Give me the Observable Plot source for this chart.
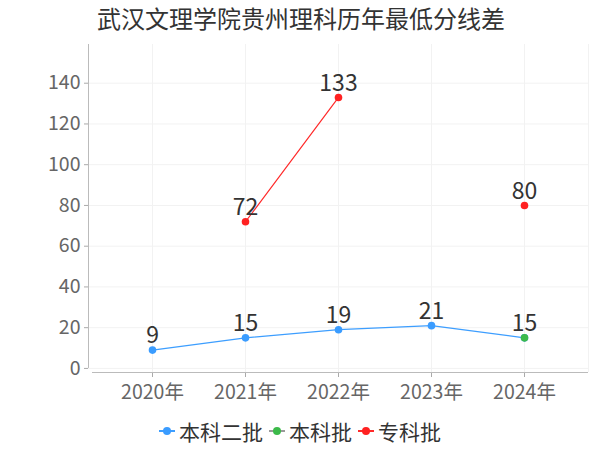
<!DOCTYPE html>
<html><head><meta charset="utf-8">
<script src="https://cdn.jsdelivr.net/npm/d3@7"></script>
<script src="https://cdn.jsdelivr.net/npm/@observablehq/plot@0.6"></script>
<style>
body{margin:0;background:#fff;font-family:"Noto Sans CJK SC",sans-serif;}
#wrap{position:relative;width:600px;height:450px;overflow:hidden;}
#title{position:absolute;left:97px;top:2px;font-size:24px;line-height:32px;color:#333;white-space:nowrap;}
#legend{position:absolute;left:0;width:600px;top:416px;height:30px;display:flex;justify-content:center;align-items:center;font-size:21px;color:#333;}
.item{display:flex;align-items:center;margin:0 3px;}
.sym{position:relative;width:16px;height:12px;margin-right:4px;}
.sym .ln{position:absolute;left:0;right:0;top:5px;height:2px;}
.sym .dt{position:absolute;left:4px;top:2px;width:8px;height:8px;border-radius:50%;}
#chart{position:absolute;left:0;top:0;}
</style></head>
<body><div id="wrap"><div id="chart"></div><div id="title">武汉文理学院贵州理科历年最低分线差</div><div id="legend"></div></div>
<script>
const years = ["2020年","2021年","2022年","2023年","2024年"];
const seriesNames = ["本科二批","本科批","专科批"];
const benke2 = [9,15,19,21,15];
const benke = [null,null,null,null,15];
const zhuanke = [null,72,133,null,80];
const yTicks = [0,20,40,60,80,100,120,140];
const colors = ["#3a9cff","#3cba4a","#ff2121"];
const lineColors = ["#3d9eff","#9a9a9a","#ff2a2a"];

const allSeries = [benke2, benke, zhuanke];
const rows = [];
allSeries.forEach((vals, si) => vals.forEach((v, i) => rows.push({series: seriesNames[si], year: years[i], value: v == null ? NaN : v})));
const defined = rows.filter(d => !isNaN(d.value));
const seen = new Set();
const labels = [];
for (let i = defined.length - 1; i >= 0; i--) {
  const k = defined[i].year + "|" + defined[i].value;
  if (!seen.has(k)) { seen.add(k); labels.push(defined[i]); }
}

const plot = Plot.plot({
  width: 600, height: 450,
  marginTop: 44, marginBottom: 78, marginLeft: 88, marginRight: 12,
  style: {fontFamily: '"Noto Sans CJK SC",sans-serif', background: "transparent"},
  x: {type: "point", domain: years, padding: 0.66},
  y: {domain: [-2, 159]},
  color: {domain: seriesNames, range: colors},
  marks: [
    Plot.gridY(yTicks, {stroke: "#f2f2f2", strokeOpacity: 1}),
    Plot.gridX(years, {stroke: "#f2f2f2", strokeOpacity: 1}),
    Plot.axisY(yTicks, {tickSize: 4, tickPadding: 4, fontSize: 19.5, color: "#666", stroke: "#aaa", label: null}),
    Plot.axisX(years, {tickSize: 5, tickPadding: 8, fontSize: 19.5, color: "#666", stroke: "#aaa", label: null}),
    Plot.line(rows.filter(d => d.series === seriesNames[0]), {x: "year", y: "value", stroke: lineColors[0], strokeWidth: 1.2}),
    Plot.line(rows.filter(d => d.series === seriesNames[2]), {x: "year", y: "value", stroke: lineColors[2], strokeWidth: 1.2}),
    Plot.dot(defined, {x: "year", y: "value", fill: "series", r: 3.8}),
    Plot.text(labels, {x: "year", y: "value", text: d => String(d.value), dy: -14, fontSize: 23, fill: "#333"})
  ]
});
document.getElementById("chart").appendChild(plot);

// axis lines
const svg = d3.select(plot);
const ys = plot.scale("y");
const y0 = ys.apply(0), yTop = ys.apply(159), yBot = ys.apply(-2);
svg.append("line").attr("x1", 88.5).attr("x2", 88.5).attr("y1", yTop).attr("y2", y0).attr("stroke", "#bbb");
svg.append("line").attr("x1", 92).attr("x2", 588).attr("y1", yBot + 0.5).attr("y2", yBot + 0.5).attr("stroke", "#bbb");
svg.append("line").attr("x1", 588.5).attr("x2", 588.5).attr("y1", yTop).attr("y2", yBot).attr("stroke", "#f2f2f2");

// legend
const lg = document.getElementById("legend");
seriesNames.forEach((n, i) => {
  const it = document.createElement("div"); it.className = "item";
  it.innerHTML = `<div class="sym"><div class="ln" style="background:${lineColors[i]}"></div><div class="dt" style="background:${colors[i]}"></div></div><span>${n}</span>`;
  lg.appendChild(it);
});
</script></body></html>
